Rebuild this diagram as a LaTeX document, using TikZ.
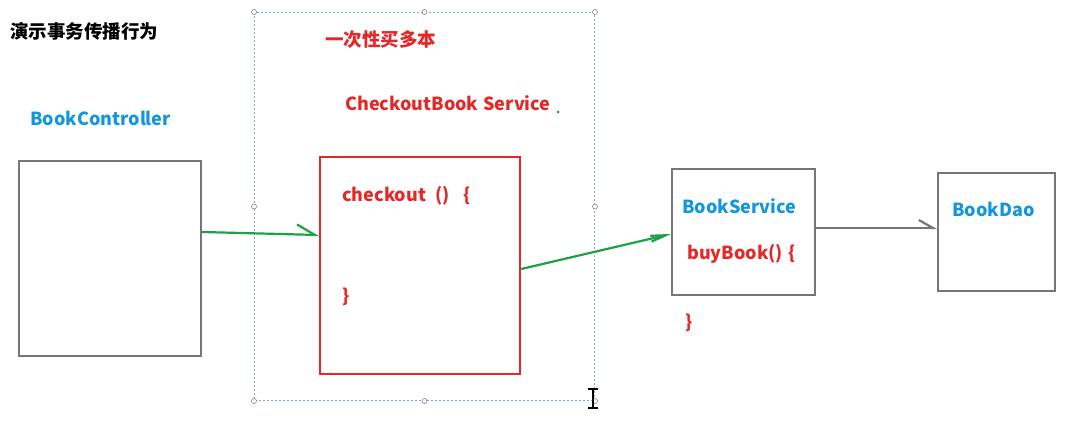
\documentclass[tikz,border=0pt]{standalone}
\usepackage{fontspec}
\setmainfont{Noto Sans CJK SC}
\usetikzlibrary{arrows.meta}
\definecolor{cred}{RGB}{228,40,40}
\definecolor{cblue}{RGB}{20,150,220}
\definecolor{cgreen}{RGB}{30,160,70}
\definecolor{cgray}{RGB}{118,118,118}
\definecolor{cframe}{RGB}{130,165,205}
\tikzset{
  box/.style={draw=cgray, line width=2.2pt, fill=white, inner sep=0pt, anchor=north west},
  redbox/.style={draw=cred, line width=2.2pt, inner sep=0pt, anchor=north west},
  frame/.style={draw=cframe, line width=1pt, dash pattern=on 2pt off 2pt, inner sep=0pt, anchor=north west},
  handle/.style={circle, draw=gray, fill=white, line width=0.6pt, inner sep=0pt, minimum size=5pt},
  lbl/.style={inner sep=0pt, anchor=base west, font=\bfseries\fontsize{18pt}{21pt}\selectfont},
  cjk/.style={inner sep=0pt, anchor=base west, font=\bfseries\fontsize{18.5pt}{21pt}\selectfont},
  garrow/.style={draw=cgreen, line width=2.2pt},
  grarrow/.style={draw=cgray, line width=2.2pt},
}
\begin{document}
\begin{tikzpicture}[x=1pt,y=-1pt]
\useasboundingbox[fill=white] (0,0) rectangle (1075,431);
% frame
\node[frame, minimum width=340pt, minimum height=388pt] (fr) at (254,12) {};
\foreach \p [count=\i] in {fr.north west, fr.north, fr.north east, fr.west, fr.east, fr.south west, fr.south, fr.south east}
  \node[handle] (h\i) at (\p) {};
% boxes
\node[box, minimum width=182pt, minimum height=195pt] (ctrl) at (18,160) {};
\node[redbox, minimum width=200pt, minimum height=217pt] (co) at (319,156) {};
\node[box, minimum width=143pt, minimum height=126pt] (bs) at (671,168) {};
\node[box, minimum width=117pt, minimum height=118pt] (dao) at (937,172) {};
% texts
\node[cjk, text=black] (title) at (10,38) {演示事务传播行为};
\node[cjk, text=cred] (once) at (325,46) {一次性买多本};
\node[lbl, text=cred] (cbs) at (345,110) {CheckoutBook\hspace{5pt}Service};
\node[lbl, text=cblue] (bcl) at (30,125) {BookController};
\node[lbl, text=cred] (chk) at (342,201) {checkout\hspace{9pt}()\hspace{14pt}\{};
\node[lbl, text=cred] (chke) at (342,302) {\}};
\node[lbl, text=cblue] (bsl) at (682,213) {BookService};
\node[lbl, text=cred] (buy) at (687,259) {buyBook()\hspace{6pt}\{};
\node[lbl, text=cred] (buye) at (685,328) {\}};
\node[lbl, text=cblue] (daol) at (952,216) {BookDao};
% green dot
\fill[cgreen] (558,112) circle (1.5pt);
% connectors
\draw[garrow, -{Straight Barb[left, length=18pt, width=20pt, line width=2.2pt]}]
  ([yshift=-72pt]ctrl.north east) -- ([yshift=-79pt]co.north west);
\draw[garrow, -{Straight Barb[length=15pt, width=6pt, line width=2.2pt]}]
  ([yshift=-113pt]co.north east) -- ([yshift=-66pt]bs.north west);
\draw[grarrow, -{Straight Barb[left, length=14pt, width=16pt, line width=2.2pt]}]
  ([yshift=-60pt]bs.north east) -- ([yshift=-56pt]dao.north west);
% text cursor
\draw[black, line width=1.6pt] (593,389) -- (593,408);
\draw[black, line width=1.4pt] (588,389) -- (598,389) (588,408) -- (598,408);
\end{tikzpicture}
\end{document}
